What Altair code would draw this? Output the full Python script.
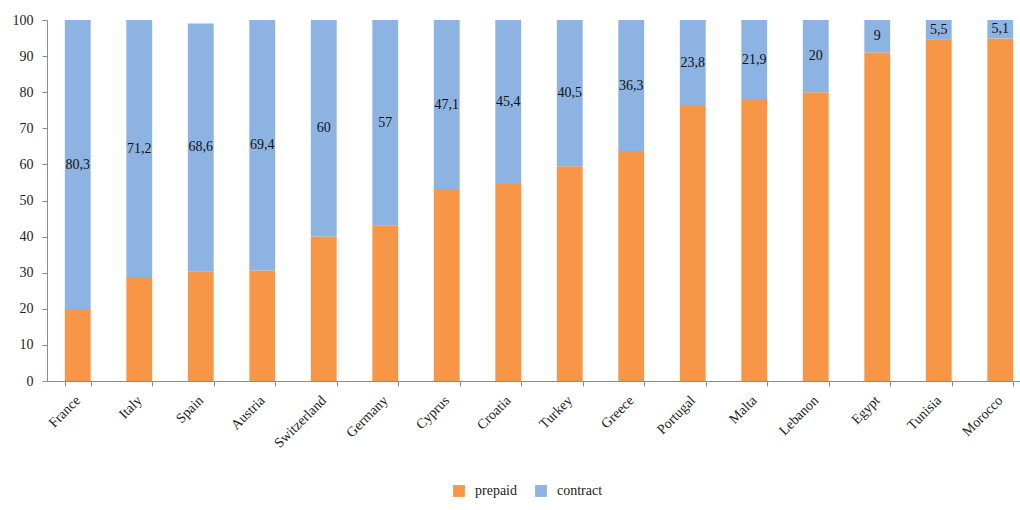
import altair as alt
import pandas as pd

countries = ["France", "Italy", "Spain", "Austria", "Switzerland", "Germany",
             "Cyprus", "Croatia", "Turkey", "Greece", "Portugal", "Malta",
             "Lebanon", "Egypt", "Tunisia", "Morocco"]
prepaid = [19.7, 28.8, 30.4, 30.6, 40.0, 43.0, 52.9, 54.6, 59.5, 63.7,
           76.2, 78.1, 80.0, 91.0, 94.5, 94.9]
contract = [80.3, 71.2, 68.6, 69.4, 60.0, 57.0, 47.1, 45.4, 40.5, 36.3,
            23.8, 21.9, 20.0, 9.0, 5.5, 5.1]
contract_labels = ["80,3", "71,2", "68,6", "69,4", "60", "57", "47,1", "45,4",
                   "40,5", "36,3", "23,8", "21,9", "20", "9", "5,5", "5,1"]

series = ["prepaid", "contract"]
colors = ["#F79646", "#8DB3E2"]
FONT = "Liberation Serif"
FS = 14

rows = []
for c, p, k in zip(countries, prepaid, contract):
    rows.append({"country": c, "type": "prepaid", "value": p, "ord": 0})
    rows.append({"country": c, "type": "contract", "value": k, "ord": 1})
df = pd.DataFrame(rows)

lab = pd.DataFrame({
    "country": countries,
    "mid": [p + k / 2 for p, k in zip(prepaid, contract)],
    "label": contract_labels,
})

# the category axis runs a little past the right edge of the view
x_scale = alt.Scale(range=[0, 984], paddingInner=0.58, paddingOuter=0.29)
y_scale = alt.Scale(domain=[0, 100], nice=False)

x_axis = alt.Axis(labelAngle=-45, labelAlign="right", labelBaseline="middle",
                  tickBand="extent", domainColor="#8c8c8c", tickColor="#8c8c8c",
                  tickSize=5, labelFont=FONT, labelFontSize=FS,
                  labelColor="#222222", labelPadding=12)
y_axis = alt.Axis(values=list(range(0, 101, 10)), grid=False, labelOverlap=False,
                  domainColor="#8c8c8c", tickColor="#8c8c8c", tickSize=5,
                  labelFont=FONT, labelFontSize=FS, labelColor="#222222",
                  labelPadding=9)

bars = alt.Chart(df).mark_bar().encode(
    x=alt.X("country:N", sort=countries, title=None, scale=x_scale, axis=x_axis),
    y=alt.Y("value:Q", stack="zero", title=None, scale=y_scale, axis=y_axis),
    color=alt.Color("type:N", scale=alt.Scale(domain=series, range=colors),
                    sort=series,
                    legend=alt.Legend(title=None, orient="none", direction="horizontal",
                                      legendX=405, legendY=464, symbolType="square",
                                      symbolSize=140, symbolStrokeWidth=0,
                                      labelOffset=9, labelFont=FONT, labelFontSize=FS,
                                      labelColor="#222222", columnPadding=17)),
    order=alt.Order("ord:Q", sort="ascending"),
)

texts = alt.Chart(lab).mark_text(font=FONT, fontSize=FS, color="#111111",
                                 baseline="middle").encode(
    x=alt.X("country:N", sort=countries, title=None, scale=x_scale, axis=x_axis),
    y=alt.Y("mid:Q", title=None, scale=y_scale, axis=y_axis),
    text="label:N",
)

chart = (bars + texts).properties(
    width=963, height=361,
    autosize=alt.AutoSizeParams(type="none"),
    padding={"left": 47, "top": 20, "right": 10, "bottom": 129},
    background="white",
).configure_view(strokeWidth=0)

chart.save("out.html", embed_options={"renderer": "svg", "actions": False})
